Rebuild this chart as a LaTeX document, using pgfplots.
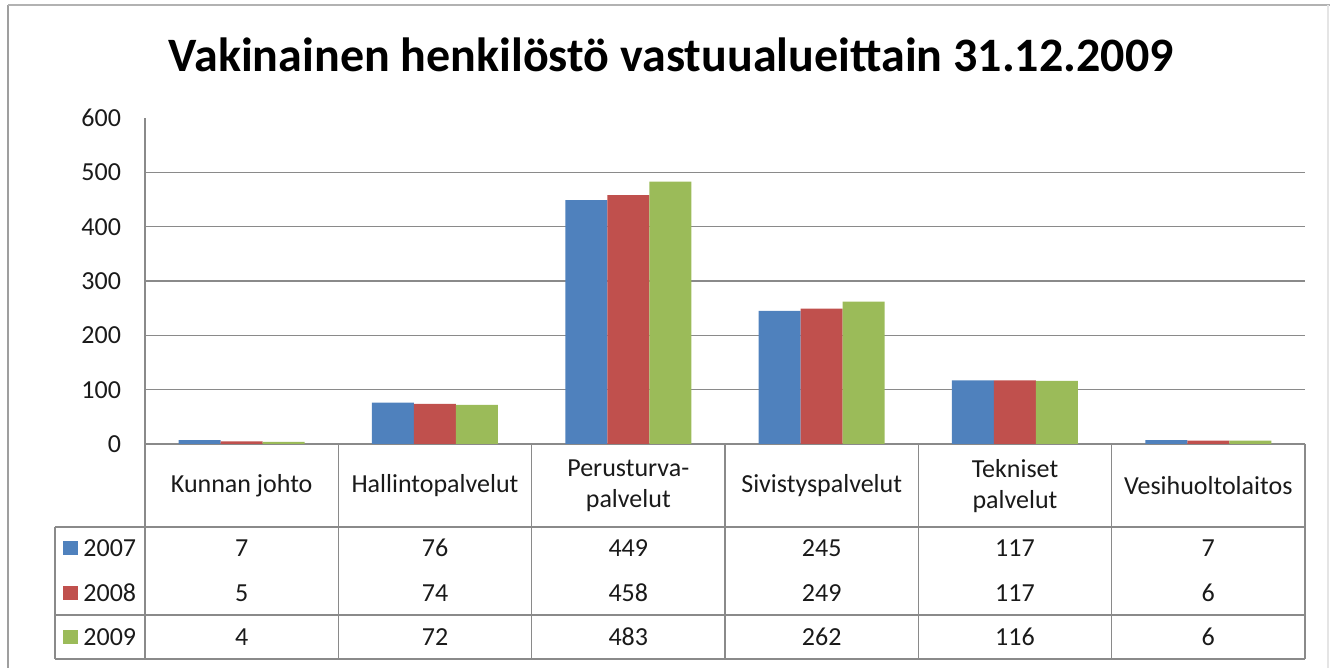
\documentclass[border=0pt]{standalone}
\usepackage{pgfplots}
\pgfplotsset{compat=1.18}
\usepackage{fontspec}
\setmainfont{Carlito}
\definecolor{c07}{HTML}{4F81BD}
\definecolor{c08}{HTML}{C0504D}
\definecolor{c09}{HTML}{9BBB59}
\definecolor{gridc}{HTML}{8A8A8A}
\definecolor{txt}{HTML}{1A1A1A}
\newcommand{\tf}{\fontsize{13}{15.5}\selectfont}
\begin{document}
\begin{tikzpicture}
\begin{axis}[
  at={(72.5pt,-222pt)}, anchor=south west, scale only axis,
  width=580pt, height=163pt,
  xmin=-0.5, xmax=5.5, ymin=0, ymax=600,
  ybar=0pt, bar width=21pt,
  xtick=\empty,
  ytick={0,100,...,500}, extra y ticks={600}, extra y tick style={grid=none},
  ymajorgrids, grid style={gridc, line width=0.75pt},
  axis x line*=bottom, axis y line*=left,
  axis line style={gridc, line width=0.75pt, -},
  major tick length=0pt,
  yticklabel style={font=\tf, text=txt, xshift=-8.5pt},
  /pgf/number format/assume math mode=true,
  clip=false,
]
\addplot[fill=c07, draw=none] coordinates {(0,7) (1,76) (2,449) (3,245) (4,117) (5,7)};
\addplot[fill=c08, draw=none] coordinates {(0,5) (1,74) (2,458) (3,249) (4,117) (5,6)};
\addplot[fill=c09, draw=none] coordinates {(0,4) (1,72) (2,483) (3,262) (4,116) (5,6)};
\end{axis}
\begin{scope}[x=0.5pt, y=-0.5pt]
\path[use as bounding box] (0,0) rectangle (1330,668);
% outer frame
\draw[gray!75, line width=1.2pt] (8,5) -- (8,668);
\draw[gray!60, line width=0.9pt] (8,5) -- (1330,5);
\draw[gray!20, line width=0.6pt] (1328,5) -- (1328,668);
% title
\node[anchor=base, text=black, font=\fontsize{24}{29}\selectfont\bfseries] at (671,72) {Vakinainen henkilöstö vastuualueittain 31.12.2009};
% table lines
\draw[gridc, line width=0.75pt] (55,527) -- (1305,527) (55,615) -- (1305,615) (55,659) -- (1305,659) (55,527) -- (55,659) (145,444) -- (145,659);
\foreach \x in {338.3,531.7,725,918.3,1111.7,1305} \draw[gridc, line width=0.75pt] (\x,444) -- (\x,659);
% category names
\begin{scope}[every node/.style={align=center, font=\tf, text=txt}]
\node at (241.7,486) {Kunnan johto};
\node at (435,486) {Hallintopalvelut};
\node at (628.3,486) {Perusturva-\\palvelut};
\node at (821.7,486) {Sivistyspalvelut};
\node at (1015,486) {Tekniset\\palvelut};
\node at (1208.3,486) {Vesihuoltolaitos};
% 2007
\node at (241.7,548) {7};
\node at (435,548) {76};
\node at (628.3,548) {449};
\node at (821.7,548) {245};
\node at (1015,548) {117};
\node at (1208.3,548) {7};
% 2008
\node at (241.7,593) {5};
\node at (435,593) {74};
\node at (628.3,593) {458};
\node at (821.7,593) {249};
\node at (1015,593) {117};
\node at (1208.3,593) {6};
% 2009
\node at (241.7,637) {4};
\node at (435,637) {72};
\node at (628.3,637) {483};
\node at (821.7,637) {262};
\node at (1015,637) {116};
\node at (1208.3,637) {6};
\end{scope}
% legend keys
\fill[c07] (63,541) rectangle (78,555);
\fill[c08] (63,586) rectangle (78,600);
\fill[c09] (63,630) rectangle (78,644);
\begin{scope}[every node/.style={anchor=west, inner sep=0pt, font=\tf, text=txt}]
\node at (83,548) {2007};
\node at (83,593) {2008};
\node at (83,637) {2009};
\end{scope}
\end{scope}
\end{tikzpicture}
\end{document}
